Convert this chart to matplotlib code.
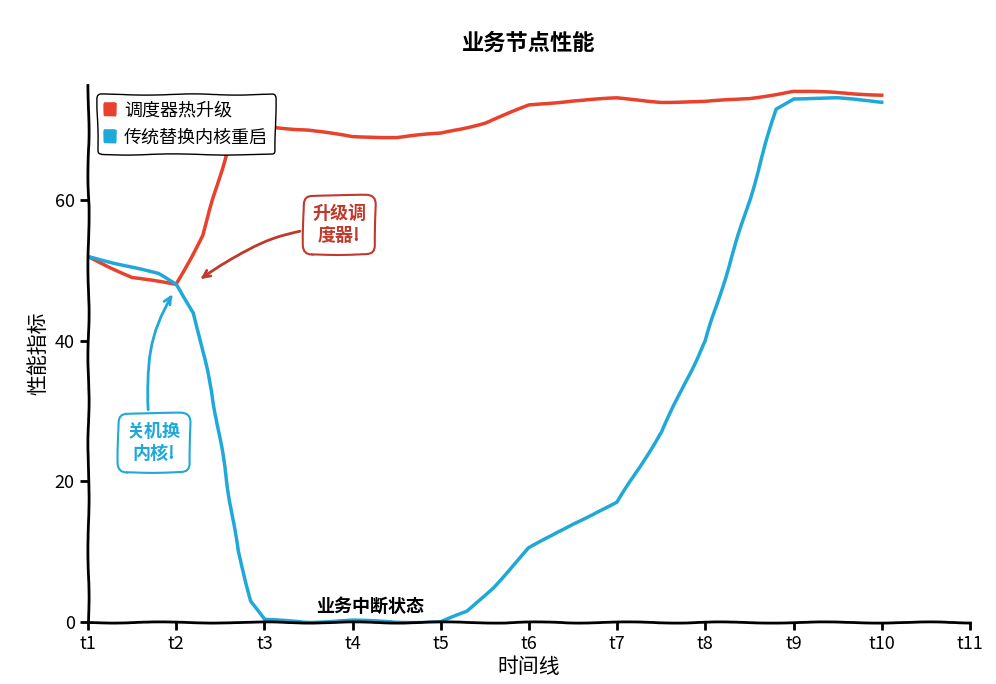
import matplotlib
matplotlib.use("Agg")
import matplotlib.pyplot as plt
from matplotlib.patches import Patch
from matplotlib import font_manager as fm

red_x = [1, 1.5, 2, 2.3, 2.6, 2.8, 3, 3.5, 4, 4.5, 5, 5.5, 6, 6.5, 7, 7.5, 8, 8.5, 9, 9.5, 10]
red_y = [52, 49, 48, 55, 68, 70.5, 70.5, 70, 69, 69, 69.5, 71, 73.5, 74.2, 74.5, 74, 74, 74.5, 75.5, 75.3, 75]
blue_x = [1, 1.5, 1.8, 2, 2.2, 2.4, 2.55, 2.7, 2.85, 3, 3.5, 4, 4.5, 5, 5.3, 5.6, 6, 6.5, 7, 7.5, 8, 8.5, 8.8, 9, 9.5, 10]
blue_y = [52, 50.5, 49.5, 48, 44, 33, 22, 10, 3, 0.3, 0, 0.2, 0, 0, 1.5, 5, 10.5, 14, 17, 27, 40, 60, 73, 74.5, 74.5, 74]
xticks = list(range(1, 12))
xlabels = [f"t{i}" for i in xticks]
series = ["调度器热升级", "传统替换内核重启"]
colors = ["#e8412c", "#1fa8d8"]

cjk = [f.name for f in fm.fontManager.ttflist if "CJK" in f.name]
fams = [n for n in ["Noto Sans CJK SC", "Noto Sans CJK JP", "Noto Sans CJK TC", "Noto Sans CJK KR"] if n in cjk] + sorted(set(cjk))
plt.rcParams["font.family"] = "sans-serif"
plt.rcParams["font.sans-serif"] = fams + ["DejaVu Sans"]
plt.rcParams["path.sketch"] = (0.6, 120, 3)
plt.rcParams["axes.linewidth"] = 2
plt.rcParams["xtick.major.width"] = 2
plt.rcParams["ytick.major.width"] = 2
plt.rcParams["xtick.major.size"] = 6
plt.rcParams["ytick.major.size"] = 6
fig = plt.figure(figsize=(9.96, 6.84), dpi=100)
ax = fig.add_axes([88/996, 62/684, 882/996, 537/684])
ax.plot(red_x, red_y, color=colors[0], lw=2.5)
ax.plot(blue_x, blue_y, color=colors[1], lw=2.5)
ax.set_xlim(1, 11)
ax.set_ylim(0, 76.4)
ax.spines["top"].set_visible(False)
ax.spines["right"].set_visible(False)
ax.set_xticks(xticks)
ax.set_xticklabels(xlabels)
ax.set_yticks([0, 20, 40, 60])
ax.tick_params(labelsize=13)
ax.set_xlabel("时间线", fontsize=15, labelpad=2)
ax.set_ylabel("性能指标", fontsize=15)
ax.set_title("业务节点性能", fontsize=16, fontweight="bold", pad=25)
ax.text(4.2, 1.5, "业务中断状态", ha="center", fontsize=13, fontweight="bold")
ax.annotate("升级调\n度器!", xy=(2.25, 48.5), xytext=(3.85, 56.5),
            color="#c0392b", fontsize=13, fontweight="bold", ha="center", va="center",
            bbox=dict(boxstyle="round,pad=0.5", fc="white", ec="#c0392b", lw=1.5),
            arrowprops=dict(arrowstyle="->", color="#c0392b", lw=2, connectionstyle="arc3,rad=0.15"))
ax.annotate("关机换\n内核!", xy=(1.97, 47), xytext=(1.75, 25.5),
            color=colors[1], fontsize=13, fontweight="bold", ha="center", va="center",
            bbox=dict(boxstyle="round,pad=0.5", fc="white", ec=colors[1], lw=1.5),
            arrowprops=dict(arrowstyle="->", color=colors[1], lw=2, connectionstyle="arc3,rad=-0.2"))
handles = [Patch(color=c, label=s) for c, s in zip(colors, series)]
ax.legend(handles=handles, loc="upper left", fontsize=13, handlelength=0.6, handleheight=0.6,
          handletextpad=0.5, frameon=True, edgecolor="black", fancybox=True, framealpha=1)
fig.savefig("out.png", dpi=100)
